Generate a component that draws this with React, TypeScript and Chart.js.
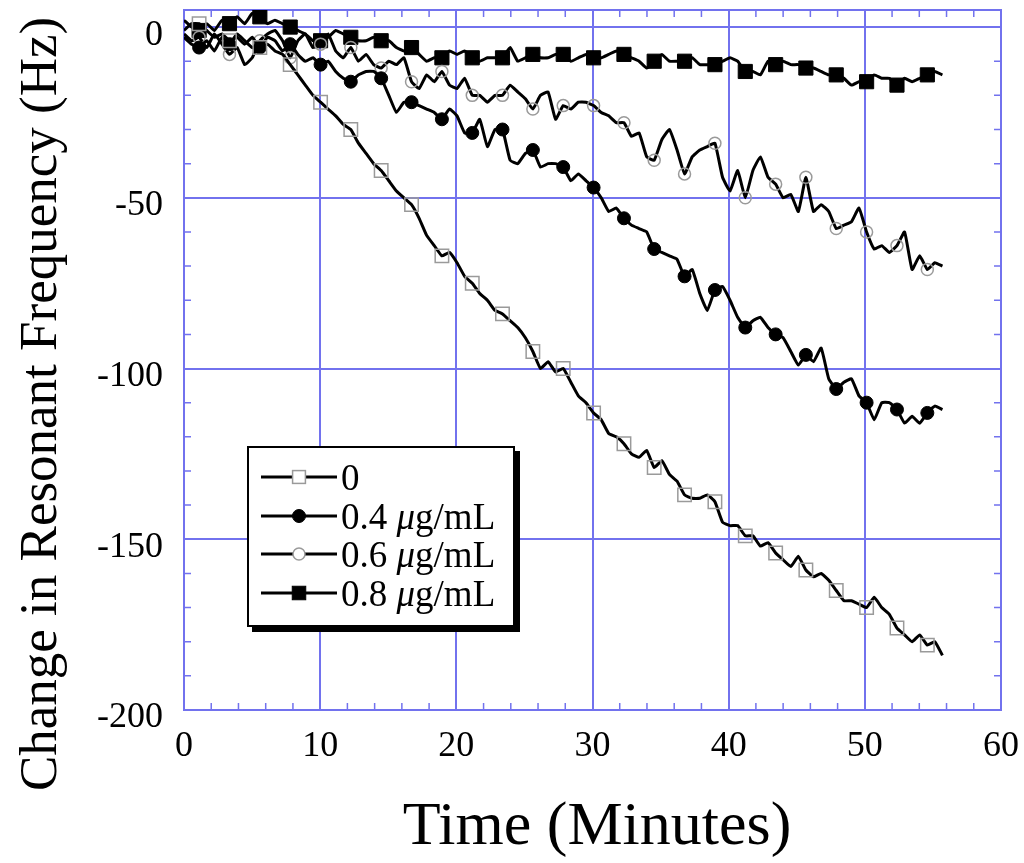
import { useEffect, useRef } from "react";
import { Chart, registerables } from "chart.js";
import type { ChartConfiguration, Plugin, ScriptableContext } from "chart.js";

Chart.register(...registerables);

// sample times (minutes), one every ~0.557 min
const TIME = [
  0, 0.56, 1.11, 1.67, 2.23, 2.79, 3.34, 3.9, 4.46, 5.01,
  5.57, 6.13, 6.68, 7.24, 7.8, 8.36, 8.91, 9.47, 10.03, 10.58,
  11.14, 11.7, 12.25, 12.81, 13.37, 13.93, 14.48, 15.04, 15.6, 16.15,
  16.71, 17.27, 17.82, 18.38, 18.94, 19.5, 20.05, 20.61, 21.17, 21.72,
  22.28, 22.84, 23.39, 23.95, 24.51, 25.07, 25.62, 26.18, 26.74, 27.29,
  27.85, 28.41, 28.96, 29.52, 30.08, 30.64, 31.19, 31.75, 32.31, 32.86,
  33.42, 33.98, 34.53, 35.09, 35.65, 36.21, 36.76, 37.32, 37.88, 38.43,
  38.99, 39.55, 40.1, 40.66, 41.22, 41.78, 42.33, 42.89, 43.45, 44.0,
  44.56, 45.12, 45.67, 46.23, 46.79, 47.35, 47.9, 48.46, 49.02, 49.57,
  50.13, 50.69, 51.24, 51.8, 52.36, 52.92, 53.47, 54.03, 54.59, 55.14,
  55.7,
];

// change in resonant frequency (Hz)
const FREQ_0 = [
  -1, 1, 1, -1, -3, -2, -4, -3, -5, -3,
  -6, -5, -7, -8, -11, -14, -17, -20, -22, -24,
  -26, -28.5, -30, -34, -37, -40, -42, -45, -48, -50,
  -52, -56, -61, -64, -67, -66, -69, -73, -75, -78,
  -80, -83, -84, -86, -88, -91, -95, -100, -98, -101,
  -100, -104, -108, -110, -113, -115, -119, -120, -122, -125,
  -126, -124, -129, -127, -131, -133, -137, -138, -138, -137,
  -139, -145, -146, -146, -149, -149, -152, -151, -154, -156,
  -158, -155, -159, -161, -160, -162, -165, -168, -168, -169,
  -170, -167, -170, -172, -176, -178, -180, -178, -181, -180,
  -184,
];

const FREQ_04 = [
  -3, -5, -6, -4, -7, -3, -5, -2, -4, -6,
  -6, -3, -4, -7, -5, -8, -10, -9, -11, -10,
  -13, -15, -16, -14, -13, -13, -15, -20, -25, -22,
  -22, -23, -24, -25, -27, -24, -26, -31, -31, -27,
  -35, -30, -30, -39, -40, -37, -36, -41, -40, -40,
  -41, -45, -43, -45, -47, -50, -54, -53, -56, -58,
  -59, -60, -65, -66, -67, -68, -73, -71, -78, -83,
  -77, -76, -80, -85, -88, -86, -85, -88, -90, -91,
  -95, -99, -96, -98, -94, -103, -106, -104, -103, -108,
  -110, -115, -110, -110, -112, -116, -114, -116, -113, -111,
  -112,
];

const FREQ_06 = [
  -2, -4, -3, -6, -2, -5, -8, -6, -11, -9,
  -4, -2, -1, -4, -9, -4, -2, -6, -5, -2,
  -7, -9, -6, -10, -8, -11, -12, -10, -11, -9,
  -16, -18, -14, -16, -13, -17, -18, -15, -20, -20,
  -22, -20, -20, -17, -19, -21, -24, -20, -19, -27,
  -23, -24, -22, -22, -23, -25, -26, -28, -28, -32,
  -31, -38, -39, -33, -30, -36, -43, -38, -36, -35,
  -34, -44, -48, -42, -50, -42, -38, -44, -46, -50,
  -49, -54, -44, -54, -52, -54, -59, -58, -57, -53,
  -60, -65, -64, -66, -64, -60, -71, -67, -71, -69,
  -70,
];

const FREQ_08 = [
  2, 0, -1, 1, -1, 2, 1, 3, 1, 4,
  3, 1, 2, 1, 0, -1, -2, -4, -4, -3,
  -1, -2, -3, -4, -4, -3, -4, -4, -6, -7,
  -6, -8, -10, -9, -9, -7, -8, -7, -9, -10,
  -9, -9, -9, -6, -10, -9, -8, -9, -9, -8,
  -8, -10, -9, -8, -9, -9, -8, -7, -8, -9,
  -10, -12, -10, -8, -10, -10, -10, -9, -11, -11,
  -11, -10, -9, -10, -13, -13, -14, -10, -11, -10,
  -11, -11, -12, -12, -13, -14, -14, -15, -17, -16,
  -16, -14, -15, -15, -17, -15, -16, -15, -14, -13,
  -14,
];

const SERIES = [FREQ_0, FREQ_04, FREQ_06, FREQ_08];
const SERIES_LABELS = ["0", "0.4 μg/mL", "0.6 μg/mL", "0.8 μg/mL"];

const X_TICKS = [0, 10, 20, 30, 40, 50, 60];
const Y_TICKS = [-200, -150, -100, -50, 0];

const GRID = "#7272ee";
const SERIF = "'Liberation Serif', 'DejaVu Serif', serif";
const MARK_EVERY = 4;
const MARK_PHASE = 2;

const MARKERS = [
  { style: "rect", radius: 9.5, fill: "rgba(0,0,0,0)", stroke: "#9a9a9a", width: 1.5 },
  { style: "circle", radius: 6.5, fill: "#000", stroke: "#000", width: 1 },
  { style: "circle", radius: 6, fill: "rgba(0,0,0,0)", stroke: "#9a9a9a", width: 1.5 },
  { style: "rect", radius: 10, fill: "#000", stroke: "#000", width: 1 },
];

// blue frame + small inward minor ticks
const framePlugin: Plugin<"line"> = {
  id: "frame",
  beforeDatasetsDraw(chart) {
    const { ctx, chartArea: a, scales } = chart;
    const x = scales.x, y = scales.y;
    ctx.save();
    ctx.strokeStyle = GRID;
    ctx.lineWidth = 2;
    ctx.strokeRect(a.left, a.top, a.right - a.left, a.bottom - a.top);
    ctx.lineWidth = 1.5;
    ctx.beginPath();
    for (let v = 2; v < 60; v += 2) {
      if (v % 10 === 0) continue;
      const px = x.getPixelForValue(v);
      ctx.moveTo(px, a.top); ctx.lineTo(px, a.top + 7);
      ctx.moveTo(px, a.bottom); ctx.lineTo(px, a.bottom - 7);
    }
    for (let v = -190; v < 0; v += 10) {
      if (v % 50 === 0) continue;
      const py = y.getPixelForValue(v);
      ctx.moveTo(a.left, py); ctx.lineTo(a.left + 7, py);
      ctx.moveTo(a.right, py); ctx.lineTo(a.right - 7, py);
    }
    ctx.stroke();
    ctx.restore();
  },
};

const titlesPlugin: Plugin<"line"> = {
  id: "axisTitles",
  afterDraw(chart) {
    const { ctx } = chart;
    ctx.save();
    ctx.fillStyle = "#000";
    ctx.textAlign = "center";
    ctx.textBaseline = "middle";
    ctx.font = `62px ${SERIF}`;
    ctx.fillText("Time (Minutes)", 597, 828);
    ctx.translate(42, 404);
    ctx.rotate(-Math.PI / 2);
    ctx.font = `53px ${SERIF}`;
    ctx.fillText("Change in Resonant Frequency (Hz)", 0, 0);
    ctx.restore();
  },
};

function LegendMark({ i }: { i: number }) {
  const m = MARKERS[i];
  const cx = 38, cy = 12;
  const side = m.radius * 1.35;
  return (
    <svg width={76} height={24} style={{ position: "absolute", left: 12, top: -12 }}>
      <line x1={0} y1={cy} x2={76} y2={cy} stroke="#000" strokeWidth={2.8} />
      {m.style === "rect" ? (
        <rect x={cx - side / 2} y={cy - side / 2} width={side} height={side}
          fill={m.fill === "#000" ? "#000" : "#fff"} stroke={m.stroke} strokeWidth={m.width} />
      ) : (
        <circle cx={cx} cy={cy} r={m.radius}
          fill={m.fill === "#000" ? "#000" : "#fff"} stroke={m.stroke} strokeWidth={m.width} />
      )}
    </svg>
  );
}

export default function App() {
  const canvasRef = useRef<HTMLCanvasElement | null>(null);
  const chartRef = useRef<Chart | null>(null);

  useEffect(() => {
    document.body.style.margin = "0";
    const ctx = canvasRef.current!.getContext("2d")!;

    const datasets = SERIES.map((values, i) => {
      const m = MARKERS[i];
      return {
        label: SERIES_LABELS[i],
        data: TIME.map((t, k) => ({ x: t, y: values[k] })),
        borderColor: "#000",
        borderWidth: 3,
        tension: 0.12,
        borderJoinStyle: "round" as const,
        pointStyle: m.style as any,
        pointRadius: (c: ScriptableContext<"line">) =>
          c.dataIndex % MARK_EVERY === MARK_PHASE ? m.radius : 0,
        pointHoverRadius: 0,
        pointBackgroundColor: m.fill,
        pointBorderColor: m.stroke,
        pointBorderWidth: m.width,
      };
    });

    const config: ChartConfiguration<"line", { x: number; y: number }[]> = {
      type: "line",
      data: { datasets },
      options: {
        responsive: false,
        animation: false,
        layout: { padding: { top: 10, right: 23, left: 0, bottom: 0 } },
        plugins: { legend: { display: false }, tooltip: { enabled: false } },
        scales: {
          x: {
            type: "linear",
            min: 0,
            max: 60,
            afterBuildTicks: (s) => { s.ticks = X_TICKS.map((value) => ({ value })); },
            afterFit: (s: any) => {
              s.height = 153;
              s.paddingLeft = 0;
              s.paddingRight = 0;
            },
            grid: { color: GRID, lineWidth: 2, drawTicks: false },
            border: { display: false },
            ticks: {
              color: "#000",
              padding: 15,
              maxRotation: 0,
              font: { family: SERIF, size: 36 },
            },
          },
          y: {
            type: "linear",
            min: -200,
            max: 5,
            afterBuildTicks: (s) => { s.ticks = Y_TICKS.map((value) => ({ value })); },
            afterFit: (s: any) => {
              s.width = 184;
              s.paddingTop = 0;
              s.paddingBottom = 0;
            },
            grid: { color: GRID, lineWidth: 2, drawTicks: false },
            border: { display: false },
            ticks: {
              color: "#000",
              padding: 21,
              labelOffset: 8,
              font: { family: SERIF, size: 36 },
            },
          },
        },
      },
      plugins: [framePlugin, titlesPlugin],
    };

    chartRef.current = new Chart(ctx, config as any);
    return () => chartRef.current?.destroy();
  }, []);

  return (
    <div style={{ position: "relative", width: 1024, height: 863, background: "#fff" }}>
      <canvas ref={canvasRef} width={1024} height={863} />
      <div
        style={{
          position: "absolute",
          left: 247,
          top: 446,
          width: 268,
          height: 181,
          boxSizing: "border-box",
          border: "2px solid #000",
          background: "#fff",
          boxShadow: "5px 5px 0 #000",
          fontFamily: SERIF,
          fontSize: 37,
          color: "#000",
        }}
      >
        {SERIES_LABELS.map((label, i) => {
          const parts = label.split("μ");
          return (
            <div key={label} style={{ position: "absolute", left: 0, top: 29 + i * 38.7, width: "100%" }}>
              <LegendMark i={i} />
              <span style={{ position: "absolute", left: 92, top: 0, transform: "translateY(-50%)", lineHeight: 1, whiteSpace: "nowrap" }}>
                {parts[0]}
                {parts.length > 1 && <i>μ</i>}
                {parts[1]}
              </span>
            </div>
          );
        })}
      </div>
    </div>
  );
}
